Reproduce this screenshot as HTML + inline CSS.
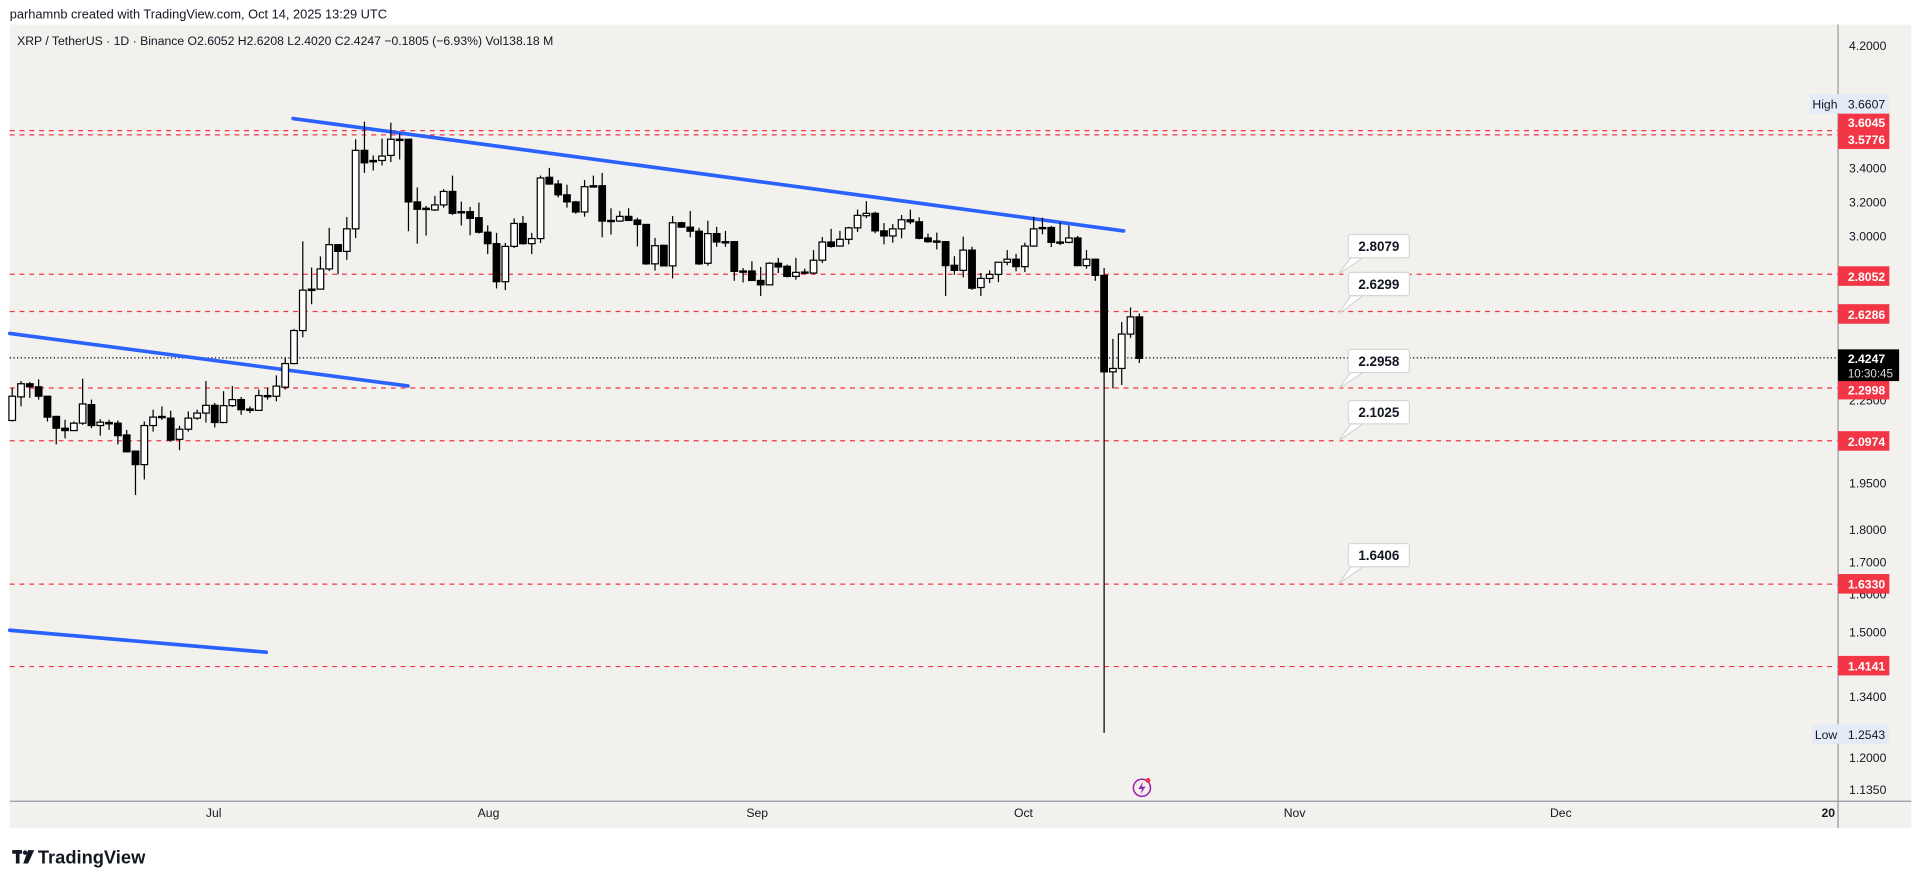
<!DOCTYPE html>
<html><head><meta charset="utf-8"><style>
html,body{margin:0;padding:0;background:#fff;}
svg{display:block;font-family:"Liberation Sans",sans-serif;}
</style></head><body>
<svg id="s" width="1915" height="888" viewBox="0 0 1568 727" xmlns="http://www.w3.org/2000/svg">
<rect x="0" y="0" width="1568" height="727" fill="#ffffff"/>
<text x="8" y="15" font-size="10.5" fill="#131722">parhamnb created with TradingView.com, Oct 14, 2025 13:29 UTC</text>
<rect x="8" y="20" width="1557" height="658" fill="#f3f1ed"/>
<text x="14" y="37" font-size="10" fill="#131722">XRP / TetherUS · 1D · Binance  O2.6052  H2.6208  L2.4020  C2.4247  −0.1805 (−6.93%)  Vol138.18 M</text>
<g id="lines" stroke="#f23645" stroke-width="1" stroke-dasharray="4,4"></g>
<line x1="8" y1="293" x2="1505" y2="293" stroke="#000" stroke-width="1" stroke-dasharray="1,2"/>
<g stroke="#2962ff" stroke-width="3" stroke-linecap="round">
<line x1="240" y1="97" x2="920" y2="189"/>
<line x1="8" y1="273" x2="334" y2="316"/>
<line x1="8" y1="516" x2="218" y2="534"/>
</g>
<g id="candles"></g>
<g id="callouts" font-size="11" font-weight="bold" fill="#131722"></g>
<line x1="1505" y1="20" x2="1505" y2="678" stroke="#9598a1" stroke-width="1"/>
<line x1="8" y1="656" x2="1565" y2="656" stroke="#9598a1" stroke-width="1"/>
<g font-size="10" fill="#131722">
<text x="1514" y="41">4.2000</text>
<text x="1514" y="141">3.4000</text>
<text x="1514" y="169">3.2000</text>
<text x="1514" y="197">3.0000</text>
<text x="1514" y="399">1.9500</text>
<text x="1514" y="437">1.8000</text>
<text x="1514" y="464">1.7000</text>
<text x="1514" y="521">1.5000</text>
<text x="1514" y="574">1.3400</text>
<text x="1514" y="624">1.2000</text>
<text x="1514" y="650">1.1350</text>
<text x="1514" y="331">2.2500</text>
<text x="1514" y="490">1.6000</text>
</g>
<g id="plabels" font-size="10" font-weight="bold" fill="#fff"></g>
<rect x="1482" y="77" width="23" height="16" fill="#e3ecf7"/>
<text x="1484" y="89" font-size="10" fill="#131722">High</text>
<rect x="1505" y="77" width="42" height="16" fill="#e3ecf7"/>
<text x="1513" y="89" font-size="10" fill="#131722">3.6607</text>
<rect x="1484" y="593" width="21" height="16" fill="#e3ecf7"/>
<text x="1486" y="605" font-size="10" fill="#131722">Low</text>
<rect x="1505" y="593" width="42" height="16" fill="#e3ecf7"/>
<text x="1513" y="605" font-size="10" fill="#131722">1.2543</text>
<rect x="1505" y="286" width="50" height="26" fill="#000"/>
<text x="1513" y="297" font-size="10" font-weight="bold" fill="#fff">2.4247</text>
<text x="1513" y="309" font-size="9.5" fill="#ddd">10:30:45</text>
<g font-size="10" fill="#131722" text-anchor="middle">
<text x="175" y="669">Jul</text>
<text x="400" y="669">Aug</text>
<text x="620" y="669">Sep</text>
<text x="838" y="669">Oct</text>
<text x="1060" y="669">Nov</text>
<text x="1278" y="669">Dec</text>
<text x="1497" y="669" font-weight="bold">20</text>
</g>
<circle cx="935" cy="645" r="7" fill="none" stroke="#9c27b0" stroke-width="1.3"/>
<path d="M936 640 L932 646 L935 646 L934 650 L938 644 L935 644 Z" fill="#9c27b0"/>
<circle cx="940" cy="639" r="2" fill="#f23645"/>
<g fill="#131722">
<rect x="10" y="696" width="8" height="3"/><rect x="13" y="696" width="3" height="11"/>
<circle cx="20.5" cy="698" r="1.8"/>
<path d="M23 696 L28 696 L23 707 L19 707 Z"/>
</g>
<text x="31" y="707" font-size="15" font-weight="bold" fill="#131722">TradingView</text>
</svg>
<script>
var NS="http://www.w3.org/2000/svg";
function el(t,a,p){var e=document.createElementNS(NS,t);for(var k in a)e.setAttribute(k,a[k]);p.appendChild(e);return e;}
function py(p){return 193-469*Math.log(p/3);}
var L=document.getElementById('lines');
[3.6045,3.5776,2.8052,2.6286,2.2998,2.0974,1.6330,1.4141].forEach(function(p){var y=py(p);el('line',{x1:8,y1:y,x2:1505,y2:y},L);});
var PL=document.getElementById('plabels');
[[3.6045,100],[3.5776,114],[2.8052,226],[2.6286,257],[2.2998,319],[2.0974,361],[1.6330,478],[1.4141,545]].forEach(function(a){
 el('rect',{x:1505,y:a[1]-8,width:42,height:16,fill:'#f23645'},PL);
 var t=el('text',{x:1513,y:a[1]+4},PL);t.textContent=a[0].toFixed(4);});
var C=document.getElementById('callouts');
[["2.8079",192,224.5],["2.6299",223,257],["2.2958",286,318],["2.1025",328,361],["1.6406",445,478]].forEach(function(a){
 var x=1104,w=50,h=19,y=a[1];
 el('path',{d:'M'+(x+2)+' '+(y+h)+' L1096 '+a[2]+' L'+(x+12)+' '+(y+h)+' Z',fill:'#fff',stroke:'#d6d6d6','stroke-width':1},C);
 el('rect',{x:x,y:y,width:w,height:h,rx:2,fill:'#fff',stroke:'#d6d6d6','stroke-width':1},C);
 var t=el('text',{x:x+w/2,y:y+13.5,'text-anchor':'middle'},C);t.textContent=a[0];});
var z1=[[1,1190,1262,1165,1265],[1,1153,1192,1145,1220],[0,1153,1162,1148,1195],[0,1162,1190,1140,1200],[0,1190,1252,1190,1265],[0,1250,1285,1248,1333],[0,1285,1292,1260,1315],[1,1270,1292,1265,1292],[1,1213,1270,1138,1275],[0,1215,1277,1200,1285],[1,1267,1277,1258,1307],[0,1268,1272,1260,1290],[0,1270,1307,1262,1333],[0,1305,1355,1290,1355],[0,1353,1393,1353,1483],[1,1277,1393,1265,1437],[1,1252,1277,1230,1295],[0,1250,1253,1220,1260],[0,1255,1320,1233,1325],[1,1288,1318,1278,1350],[1,1255,1288,1235,1295],[1,1240,1255,1230,1260],[1,1217,1240,1145,1268],[0,1217,1268,1210,1283],[1,1218,1268,1175,1270],[1,1200,1218,1160,1222],[0,1200,1230,1192,1245],[0,1228,1232,1220,1240],[1,1188,1232,1170,1232],[0,1188,1190,1165,1200],[1,1160,1190,1128,1205],[1,1093,1163,1075,1170],[1,995,1093,990,1095],[1,875,995,730,1015],[0,872,876,808,917],[1,812,872,775,873],[1,740,812,690,818],[0,740,760,740,828],[1,693,760,658,785],[1,460,693,427,720],[0,460,497,375,527],[0,490,494,475,520],[1,477,490,425,505],[1,427,475,378,495],[0,427,429,410,487],[0,427,613,427,700],[0,613,635,570,737],[0,632,635,625,713],[1,622,637,595,640],[1,582,622,575,630],[0,582,647,535,652],[0,642,645,612,683],[0,642,662,628,712],[0,660,703,615,707],[0,703,737,683,768],[0,737,850,705,870],[1,745,850,735,875],[1,677,745,662,750],[0,677,737,655,740],[1,722,737,705,768],[1,542,722,535,735],[0,540,560,512,562],[0,560,592,548,600],[0,592,613,562,630],[0,613,643,610,648],[1,568,643,548,657],[0,565,569,535,570],[0,565,670,527,718],[0,668,671,632,710],[1,656,670,640,672],[0,656,668,632,670],[0,667,680,660,745],[0,680,797,680,800],[1,743,797,720,817],[0,742,803,740,805],[1,675,803,655,840],[0,675,688,672,690],[0,688,700,640,718],[0,700,797,690,800]];
var z2=[[1,408,496,370,503],[0,408,433,388,447],[0,432,434,400,447],[0,432,520,430,548],[0,519,521,510,553],[0,519,547,490,548],[0,547,560,507,593],[1,496,560,493,562],[0,496,507,480,525],[0,505,535,500,538],[1,523,535,480,545],[0,522,524,512,527],[1,487,525,457,528],[1,433,487,418,495],[0,433,446,394,450],[1,425,445,400,447],[1,391,425,388,440],[1,354,391,337,403],[1,348,355,312,362],[0,348,400,343,407],[0,400,415,377,440],[1,394,415,380,435],[1,367,394,353,422],[0,367,373,337,380],[0,373,422,360,425],[0,421,432,408,435],[0,430,432,405,455],[0,432,503,430,593],[0,502,517,475,530],[1,457,517,417,538],[0,457,570,447,575],[1,541,568,525,593],[1,529,541,517,555],[1,493,529,493,552],[1,484,493,457,502],[0,484,506,468,520],[1,445,506,435,522],[1,394,445,358,447],[0,390,393,361,410],[0,390,434,385,448],[0,433,435,375,442],[1,421,434,384,437],[0,421,503,415,503],[1,484,503,457,512],[0,484,532,484,548],[0,532,818,510,818],[1,808,818,720,867],[1,706,808,670,857],[1,655,706,627,717],[0,655,778,645,792]];
function f1(v){return v/3.626-3.8;}
function f2(v){return 107+(v-103)*0.2761;}
var data=[];
z1.forEach(function(c){data.push([c[0],f1(c[1]),f1(c[2]),f1(c[3]),f1(c[4])]);});
z2.forEach(function(c){data.push([c[0],f2(c[1]),f2(c[2]),f2(c[3]),f2(c[4])]);});
data[124][4]=600;
var G=document.getElementById('candles');
data.forEach(function(c,i){
 var x=10+i*7.21;
 el('line',{x1:x,y1:c[3],x2:x,y2:c[4],stroke:'#000','stroke-width':1},G);
 var h=Math.max(1,c[2]-c[1]);
 el('rect',{x:x-2.7,y:c[1],width:5.4,height:h,fill:c[0]?'#fff':'#000',stroke:'#000','stroke-width':1},G);
});
</script>
</body></html>
